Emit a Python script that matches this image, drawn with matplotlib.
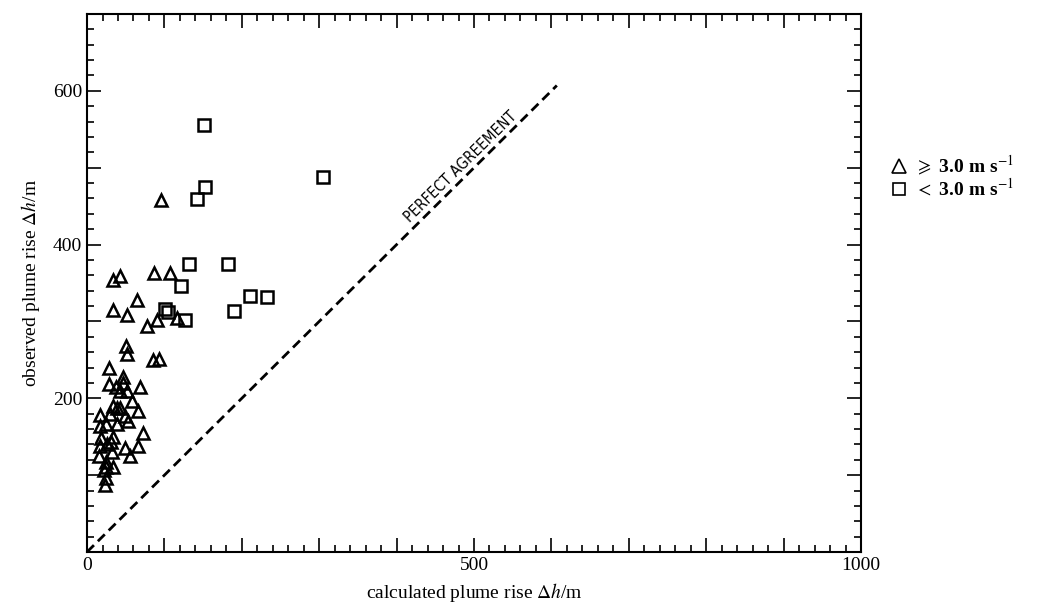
import matplotlib.pyplot as plt
from matplotlib.lines import Line2D
from matplotlib.ticker import MultipleLocator, FuncFormatter

plt.rcParams['font.family'] = ['Liberation Serif', 'DejaVu Serif']
plt.rcParams['mathtext.fontset'] = 'stix'

# wind speed >= 3.0 m/s (triangles)
tri_x = [96, 34, 43, 86, 107, 65, 33, 51, 116, 91, 78,
         50, 51, 85, 93, 29, 46, 29, 47, 38, 68, 43, 51, 58,
         34, 43, 66, 17, 30, 49, 39, 25, 17, 39, 53, 72,
         34, 18, 31, 17, 66, 49, 26, 32, 15, 55,
         25, 25, 34, 22, 25, 23]
tri_y = [458, 354, 359, 363, 363, 328, 315, 308, 304, 302, 294,
         268, 258, 250, 251, 240, 228, 219, 220, 215, 215, 209, 210, 197,
         190, 188, 183, 178, 180, 177, 187, 167, 164, 167, 170, 155,
         150, 148, 143, 138, 138, 135, 141, 130, 125, 125,
         117, 111, 111, 107, 96, 87]

# wind speed < 3.0 m/s (squares)
sq_x = [151, 305, 153, 142, 132, 182, 122, 210, 232, 190, 101, 104, 126]
sq_y = [556, 488, 475, 459, 375, 375, 346, 333, 332, 314, 316, 312, 302]

line_end = 607

fig = plt.figure(figsize=(10.41, 6.09), dpi=100)
ax = fig.add_axes([0.0836, 0.0936, 0.7435, 0.8834])

ax.plot(tri_x, tri_y, ls='none', marker='^', ms=9, mfc='none', mec='black', mew=1.8)
ax.plot(sq_x, sq_y, ls='none', marker='s', ms=8, mfc='none', mec='black', mew=1.8)

ax.plot([0, line_end], [0, line_end], color='black', lw=2, dashes=(3.5, 2))
ax.text(490, 494, 'PERFECT AGREEMENT', rotation=44.5, rotation_mode='anchor',
        ha='center', va='bottom', fontsize=11, family='DejaVu Sans',
        fontstretch='condensed')

ax.set_xlim(0, 1000)
ax.set_ylim(0, 700)

ax.xaxis.set_major_locator(MultipleLocator(100))
ax.xaxis.set_minor_locator(MultipleLocator(20))
ax.yaxis.set_major_locator(MultipleLocator(100))
ax.yaxis.set_minor_locator(MultipleLocator(20))
ax.xaxis.set_major_formatter(FuncFormatter(lambda v, p: f'{v:.0f}' if round(v) % 500 == 0 else ''))
ax.yaxis.set_major_formatter(FuncFormatter(lambda v, p: f'{v:.0f}' if round(v) in (200, 400, 600) else ''))

ax.tick_params(which='both', direction='in', top=True, right=True, width=1.2, labelsize=14)
ax.tick_params(which='major', length=10)
ax.tick_params(which='minor', length=5)
for s in ax.spines.values():
    s.set_linewidth(1.5)

ax.set_xlabel(r'calculated plume rise $\Delta h$/m', fontsize=14, labelpad=5)
ax.set_ylabel(r'observed plume rise $\Delta h$/m', fontsize=14, labelpad=8)

handles = [Line2D([], [], ls='none', marker='^', ms=10, mfc='none', mec='black', mew=1.2),
           Line2D([], [], ls='none', marker='s', ms=9, mfc='none', mec='black', mew=1.2)]
labels = [r'$\geqslant$ 3.0 m s$^{-1}$', r'$<$ 3.0 m s$^{-1}$']
ax.legend(handles, labels, loc='center left', bbox_to_anchor=(1.024, 0.698), frameon=False,
          prop={'size': 14, 'weight': 'bold'}, handletextpad=0.2, labelspacing=0.0,
          borderaxespad=0, handlelength=1.2)

fig.savefig('out.png', dpi=100)
